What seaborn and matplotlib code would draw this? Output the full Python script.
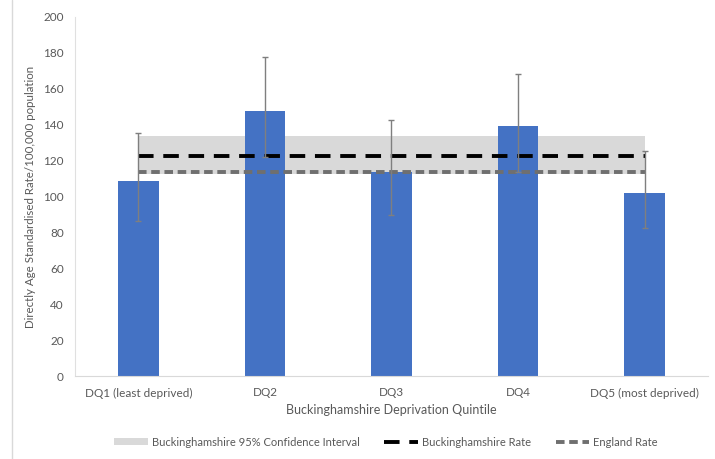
import numpy as np
import pandas as pd
import seaborn as sns
import matplotlib.pyplot as plt
from matplotlib.patches import Patch
from matplotlib.lines import Line2D

# values
quintiles = ['DQ1 (least deprived)', 'DQ2', 'DQ3', 'DQ4', 'DQ5 (most deprived)']
rates = [109, 147.5, 114, 139.5, 102]
ci_lower = [86.5, 122, 90, 114, 82.5]
ci_upper = [135.5, 178, 142.5, 168.5, 125.5]

bucks_rate = 122.5
bucks_ci_lower = 112.5
bucks_ci_upper = 134
england_rate = 113.8

df = pd.DataFrame({'quintile': quintiles, 'rate': rates})

sns.set_style('white')
plt.rcParams['font.family'] = ['Lato', 'DejaVu Sans']
text_grey = '#595959'

fig, ax = plt.subplots(figsize=(7.15, 4.59), dpi=100)
fig.subplots_adjust(left=0.105, right=0.99, top=0.963, bottom=0.18)

x = np.arange(len(quintiles))

# confidence band and reference lines across the quintiles
ax.fill_between(x, [bucks_ci_lower] * len(x), [bucks_ci_upper] * len(x),
                color='#d9d9d9', lw=0, zorder=1)

sns.barplot(data=df, x='quintile', y='rate', color='#4472c4', width=0.32,
            saturation=1, linewidth=0, ax=ax, zorder=2)

ax.plot(x, [bucks_rate] * len(x), color='black', lw=2.8, ls=(0, (4, 2.5)), zorder=3)
ax.plot(x, [england_rate] * len(x), color='#6f6f6f', lw=2.8, ls=(0, (2.2, 1.2)), zorder=3)

# error bars
err = [np.array(rates) - np.array(ci_lower), np.array(ci_upper) - np.array(rates)]
ax.errorbar(x, rates, yerr=err, fmt='none', ecolor='#7f7f7f', elinewidth=1,
            capsize=2.5, capthick=1, zorder=4)

ax.set_ylim(0, 200)
ax.set_yticks(range(0, 201, 20))
ax.set_xlim(-0.5, 4.5)

for side in ['top', 'right']:
    ax.spines[side].set_visible(False)
ax.spines['left'].set_color('#e0e0e0')
ax.spines['bottom'].set_color('#d9d9d9')
ax.tick_params(axis='both', length=0, labelsize=8.5, labelcolor=text_grey, pad=8)

ax.set_xlabel('Buckinghamshire Deprivation Quintile', fontsize=9, color=text_grey, labelpad=4)
ax.set_ylabel('Directly Age Standardised Rate/100,000 population', fontsize=8.3,
              color=text_grey, labelpad=5)

handles = [
    Patch(facecolor='#d9d9d9', edgecolor='none'),
    Line2D([0], [0], color='black', lw=2.8, ls=(0, (4, 2.5))),
    Line2D([0], [0], color='#6f6f6f', lw=2.8, ls=(0, (2.2, 1.2))),
]
labels = ['Buckinghamshire 95% Confidence Interval', 'Buckinghamshire Rate', 'England Rate']
leg = fig.legend(handles, labels, loc='center', bbox_to_anchor=(0.54, 0.037), ncol=3,
                 frameon=False, fontsize=8, handlelength=3, handleheight=0.5,
                 columnspacing=2.2, handletextpad=0.4)
for t in leg.get_texts():
    t.set_color(text_grey)

# thin chart border on the left edge
fig.add_artist(Line2D([0.017, 0.017], [0.0, 1.0], color='#d9d9d9', lw=1,
                      transform=fig.transFigure))

fig.savefig('out.png', dpi=100)
